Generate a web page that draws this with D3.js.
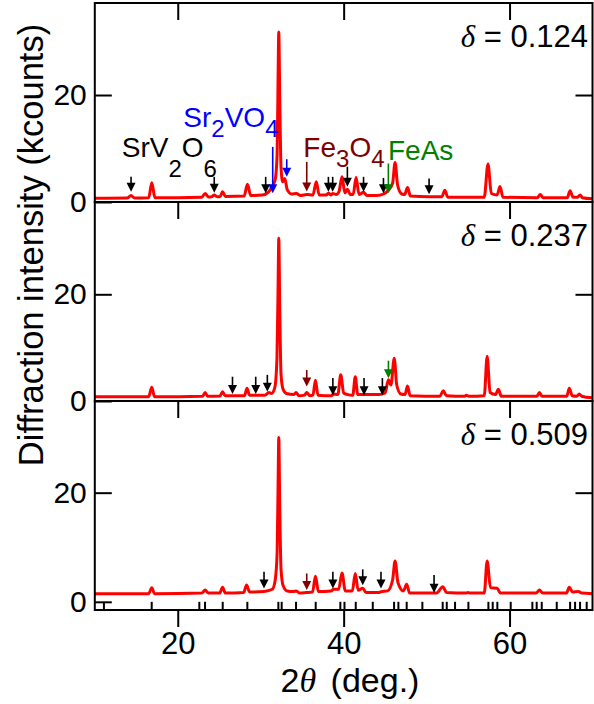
<!DOCTYPE html>
<html>
<head>
<meta charset="utf-8">
<script src="https://cdn.jsdelivr.net/npm/d3@7"></script>
<style>
  body { margin: 0; background: #fff; }
</style>
</head>
<body>
<svg id="chart" width="594" height="704"></svg>
<script>
// Powder XRD patterns: [2θ (deg.), intensity (kcounts)]
const pattern124 = [
  [10,0.7],[13.9,0.75],[14.37,1.2],[14.8,0.75],[16.5,0.8],[16.87,3.6],[17.25,0.8],
  [22.9,0.9],[23.3,1.6],[23.7,0.95],[24.1,1.0],[24.4,1.3],[24.75,1.0],[25.1,1.0],
  [25.4,1.9],[25.75,1.05],[28.0,1.1],[28.4,3.3],[28.8,1.2],[30.2,1.3],[30.9,1.8],
  [31.35,2.8],[31.75,4.2],[31.98,9],[32.1,24],[32.18,31.8],[32.3,19],[32.45,6.5],
  [32.65,3.8],[32.9,4.4],[33.2,2.3],[33.7,1.5],[34.3,1.6],[34.8,1.2],[35.55,1.4],
  [36.3,1.3],[36.7,3.8],[37.05,1.3],[37.9,1.3],[38.2,1.7],[38.45,1.3],[38.7,1.6],
  [39.1,1.4],[39.45,2.0],[39.8,4.7],[40.15,1.7],[40.45,2.4],[40.8,1.4],[41.15,1.4],
  [41.5,4.6],[41.85,1.4],[42.4,1.8],[42.8,1.2],[44.0,1.2],[44.8,1.5],[45.4,2.2],
  [45.9,3.5],[46.2,7.4],[46.5,3.2],[47.0,1.5],[47.35,1.4],[47.7,2.7],[48.05,1.1],
  [50.3,1.0],[51.85,1.0],[52.2,2.2],[52.55,0.9],[56.95,0.9],[57.4,7.1],[57.8,1.6],
  [58.5,1.3],[58.85,2.9],[59.2,0.9],[63.35,0.8],[63.7,1.4],[64.05,0.8],[66.95,0.8],
  [67.3,2.1],[67.65,0.9],[68.2,0.9],[68.5,1.3],[68.8,0.8],[70,0.6]
];

const pattern237 = [
  [10,0.8],[16.5,0.8],[16.87,2.6],[17.2,0.8],[23.0,0.9],[23.3,1.6],[23.6,0.9],
  [25.1,0.95],[25.4,1.75],[25.7,1.0],[26.6,1.0],[28.05,1.0],[28.35,2.4],[28.65,1.1],
  [30.5,1.1],[31.0,1.6],[31.3,1.4],[31.7,2.5],[31.96,8],[32.1,22],[32.18,30.5],
  [32.3,17],[32.45,5],[32.7,2.2],[33.1,1.4],[34.0,1.2],[34.25,1.6],[34.6,1.0],
  [35.3,1.1],[35.55,1.6],[35.9,1.0],[36.3,1.1],[36.6,3.9],[36.9,1.1],[38.5,1.0],
  [38.8,1.3],[39.3,1.2],[39.65,4.9],[40.0,1.5],[40.5,1.2],[41.1,1.1],[41.4,4.55],
  [41.7,1.2],[42.5,1.2],[44.3,1.2],[45.0,1.5],[45.4,4.0],[45.7,3.0],[46.1,8.0],
  [46.4,3.0],[46.9,1.3],[47.4,1.2],[47.7,2.8],[48.0,1.0],[51.6,0.9],[52.0,1.9],
  [52.4,1.0],[54.6,0.9],[54.8,1.1],[55.1,0.9],[56.95,1.0],[57.3,8.4],[57.65,1.6],
  [58.3,1.2],[58.65,2.2],[59.0,0.9],[63.3,0.9],[63.6,1.6],[63.9,0.9],[66.9,0.9],
  [67.2,2.4],[67.55,1.0],[68.1,0.9],[68.4,1.3],[68.7,0.9],[70,0.6]
];

const pattern509 = [
  [10,1.5],[16.5,1.5],[16.87,2.6],[17.2,1.5],[22.9,1.6],[23.3,2.15],[23.7,1.6],
  [25.05,1.6],[25.4,2.65],[25.75,1.6],[27.95,1.7],[28.3,3.1],[28.65,1.8],[30.4,1.9],
  [31.4,2.3],[31.75,4.0],[31.98,9],[32.1,22],[32.18,30.1],[32.3,17],[32.45,6],
  [32.7,3.0],[33.2,2.0],[33.9,1.9],[34.3,2.0],[34.7,1.6],[35.5,1.7],[36.25,1.8],
  [36.6,4.7],[36.95,1.9],[38.5,2.0],[38.8,2.3],[39.4,2.3],[39.8,5.3],[40.2,2.0],
  [41.05,2.0],[41.4,5.2],[41.75,2.1],[42.3,2.5],[42.7,1.7],[44.2,1.7],[44.5,1.85],
  [45.3,2.0],[45.9,4.0],[46.2,7.5],[46.55,3.5],[47.2,2.0],[47.6,3.2],[47.95,1.6],
  [51.2,1.6],[51.95,2.75],[52.4,1.7],[54.7,1.6],[55.0,1.7],[55.3,1.6],[56.95,1.6],
  [57.3,7.5],[57.7,2.6],[58.5,2.5],[58.9,1.6],[63.2,1.6],[63.6,2.15],[64.0,1.6],
  [66.85,1.6],[67.2,2.65],[67.6,1.8],[68.3,1.9],[68.7,1.6],[70,1.5]
];

// Calculated reflection positions of the main phase (2θ, deg.)
const braggPositions = [
  11.1,16.86,22.6,23.29,25.42,28.39,32.13,32.53,34.26,36.63,39.6,40.1,41.46,43.51,
  46.08,46.6,47.6,49.49,51.94,52.43,53.43,55.04,57.45,57.97,58.53,60.14,62.75,
  63.27,63.88,65.69,67.3,67.9,68.5,69.3
];

// Impurity markers: [2θ, tip intensity, tail intensity, phase]
const impurities124 = [
  [14.37,1.9,4.7,"SrV2O6"],[24.4,1.75,4.7,"SrV2O6"],[30.6,1.65,4.7,"SrV2O6"],
  [38.16,1.9,4.7,"SrV2O6"],[38.68,1.9,4.7,"SrV2O6"],[40.45,2.85,6.6,"SrV2O6"],
  [42.4,1.9,4.7,"SrV2O6"],[44.8,1.65,4.5,"SrV2O6"],[50.3,1.45,4.4,"SrV2O6"],
  [31.45,1.65,10.3,"Sr2VO4"],[33.14,4.7,8.0,"Sr2VO4"],
  [35.55,1.95,7.5,"Fe3O4"],[45.39,1.65,7.2,"FeAs"]
];
const impurities237 = [
  [26.6,1.3,4.55,"SrV2O6"],[29.4,1.3,4.55,"SrV2O6"],[30.8,1.75,4.9,"SrV2O6"],
  [35.55,2.7,5.8,"Fe3O4"],[38.7,1.1,4.3,"SrV2O6"],[42.46,1.1,4.3,"SrV2O6"],
  [44.67,1.1,4.3,"SrV2O6"],[45.4,4.25,7.55,"FeAs"]
];
const impurities509 = [
  [30.4,2.45,5.5,"SrV2O6"],[35.55,2.15,5.2,"Fe3O4"],[38.7,2.45,5.5,"SrV2O6"],
  [42.3,3.05,5.95,"SrV2O6"],[44.5,2.45,5.5,"SrV2O6"],[50.9,1.65,4.9,"SrV2O6"]
];

const deltaValues = ["0.124", "0.237", "0.509"];
const xTickValues = [20, 40, 60];
const yTickValues = [0, 20];

const phaseColor = { SrV2O6: "#000000", Sr2VO4: "#0000ff", Fe3O4: "#800000", FeAs: "#008000" };

const font = "'Liberation Sans', Arial, Helvetica, sans-serif";
const greekFont = "'Liberation Serif', 'Times New Roman', serif";
const svg = d3.select("#chart");
const defs = svg.append("defs");

const x = d3.scaleLinear().domain([10, 70]).range([94.8, 592.5]);
const [x0, x1] = x.range();

const panels = [
  { data: pattern124, marks: impurities124, delta: deltaValues[0], top: 3,   bottom: 202, yDomain: [0, 37.2] },
  { data: pattern237, marks: impurities237, delta: deltaValues[1], top: 202, bottom: 401, yDomain: [0, 37.3] },
  { data: pattern509, marks: impurities509, delta: deltaValues[2], top: 401, bottom: 610, yDomain: [-1.5, 36.8], bragg: true }
];

function styleAxis(sel, size) {
  sel.select(".domain").remove();
  sel.selectAll(".tick line").attr("stroke", "#000").attr("stroke-width", 2);
  sel.selectAll(".tick text").attr("fill", "#000").style("font-family", font).style("font-size", size + "px");
}

panels.forEach((p, i) => {
  const y = d3.scaleLinear().domain(p.yDomain).range([p.bottom, p.top]);
  const g = svg.append("g");

  const clipId = "panel-clip-" + i;
  defs.append("clipPath").attr("id", clipId)
    .append("rect").attr("x", x0).attr("y", p.top).attr("width", x1 - x0).attr("height", p.bottom - p.top);

  // Diffraction trace
  const line = d3.line().x(d => x(d[0])).y(d => y(d[1])).curve(d3.curveMonotoneX);
  g.append("path").datum(p.data)
    .attr("d", line)
    .attr("fill", "none")
    .attr("stroke", "#ff0000")
    .attr("stroke-width", 3)
    .attr("stroke-linejoin", "round")
    .attr("clip-path", `url(#${clipId})`);

  // Reflection ticks along the bottom strip
  if (p.bragg) {
    g.selectAll("line.bragg").data(braggPositions).join("line")
      .attr("class", "bragg")
      .attr("x1", d => x(d)).attr("x2", d => x(d))
      .attr("y1", y(0)).attr("y2", y(p.yDomain[0]))
      .attr("stroke", "#000").attr("stroke-width", 2);
  }

  // Impurity arrows
  const head = 9, halfW = 4.5;
  const mg = g.selectAll("g.mark").data(p.marks).join("g").attr("class", "mark");
  mg.append("line")
    .attr("x1", d => x(d[0])).attr("x2", d => x(d[0]))
    .attr("y1", d => y(d[2])).attr("y2", d => y(d[1]) - head + 1)
    .attr("stroke", d => phaseColor[d[3]]).attr("stroke-width", 1.6);
  mg.append("path")
    .attr("d", d => {
      const px = x(d[0]), py = y(d[1]);
      return `M${px - halfW},${py - head}L${px + halfW},${py - head}L${px},${py}Z`;
    })
    .attr("fill", d => phaseColor[d[3]]);

  // Frame
  g.append("rect")
    .attr("x", x0).attr("y", p.top).attr("width", x1 - x0).attr("height", p.bottom - p.top)
    .attr("fill", "none").attr("stroke", "#000").attr("stroke-width", 2);

  // Axes
  const left = g.append("g").attr("transform", `translate(${x0},0)`)
    .call(d3.axisLeft(y).tickValues(yTickValues).tickSize(-17).tickPadding(8).tickFormat(d3.format("d")));
  styleAxis(left, 30);
  const right = g.append("g").attr("transform", `translate(${x1},0)`)
    .call(d3.axisRight(y).tickValues([20]).tickSize(-17).tickFormat(""));
  styleAxis(right, 30);
  const topAx = g.append("g").attr("transform", `translate(0,${p.top})`)
    .call(d3.axisTop(x).tickValues(xTickValues).tickSize(-17).tickFormat(""));
  styleAxis(topAx, 30);
  if (p.bragg) {
    const bottom = g.append("g").attr("transform", `translate(0,${p.bottom})`)
      .call(d3.axisBottom(x).tickValues(xTickValues).tickSize(17).tickPadding(5).tickFormat(d3.format("d")));
    styleAxis(bottom, 31);
  }

  // δ label
  const dl = g.append("text")
    .attr("x", 588).attr("y", p.top + 44)
    .attr("text-anchor", "end")
    .style("font-family", font).style("font-size", "31px").attr("fill", "#000");
  dl.append("tspan").text("δ").style("font-family", greekFont).style("font-style", "italic");
  dl.append("tspan").text(" = " + p.delta);

  p.y = y;
});

// Phase labels in the top panel (formula parts: [text, isSubscript])
const yTop = panels[0].y;
function phaseLabel(parts, xv, yv, color, subShift) {
  const base = yTop(yv);
  const t = svg.append("text")
    .attr("x", x(xv)).attr("y", base)
    .style("font-family", font).style("font-size", "28px").attr("fill", color);
  parts.forEach(([s, sub]) => {
    const ts = t.append("tspan").text(s).attr("y", sub ? base + subShift : base);
    if (sub) ts.style("font-size", "24px");
  });
}
phaseLabel([["SrV"], ["2", true], ["O"], ["6", true]], 13.25, 8.47, phaseColor.SrV2O6, 20);
phaseLabel([["Sr"], ["2", true], ["VO"], ["4", true]], 20.67, 14.07, phaseColor.Sr2VO4, 10);
phaseLabel([["Fe"], ["3", true], ["O"], ["4", true]], 35.14, 8.4, phaseColor.Fe3O4, 10);
phaseLabel([["FeAs"]], 45.35, 7.85, phaseColor.FeAs, 0);

// Axis titles
svg.append("text")
  .attr("transform", "translate(43,245) rotate(-90)")
  .attr("text-anchor", "middle")
  .style("font-family", font).style("font-size", "34.5px").attr("fill", "#000")
  .text("Diffraction intensity (kcounts)");

const xt = svg.append("text")
  .attr("x", 350).attr("y", 692)
  .attr("text-anchor", "middle")
  .style("font-family", font).style("font-size", "34px").attr("fill", "#000");
xt.append("tspan").text("2");
xt.append("tspan").text("θ").style("font-family", greekFont).style("font-style", "italic");
xt.append("tspan").text(" (deg.)").attr("dx", 5);
</script>
</body>
</html>
